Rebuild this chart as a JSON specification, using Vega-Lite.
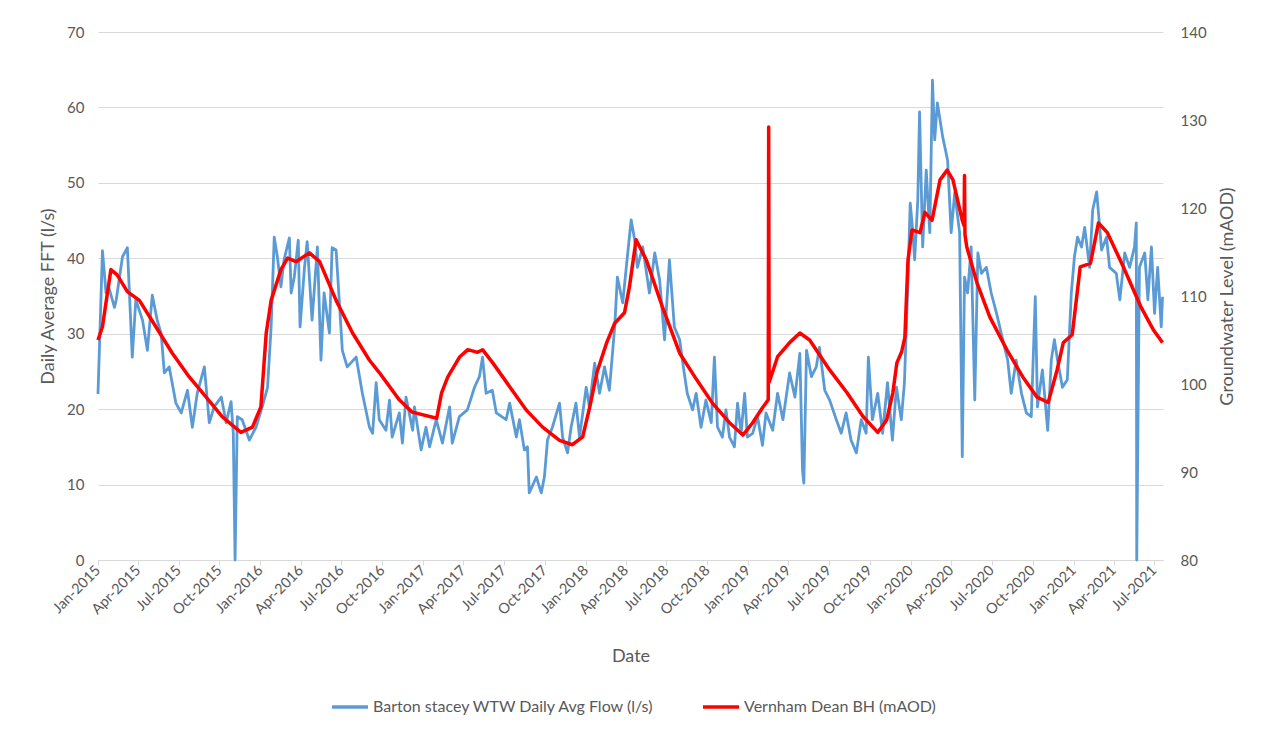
{
  "$schema": "https://vega.github.io/schema/vega-lite/v6.json",
  "width": 1065,
  "height": 528,
  "autosize": {"type": "none"},
  "padding": {"left": 98, "top": 32, "right": 98, "bottom": 171},
  "background": "white",
  "config": {
    "font": "Lato",
    "view": {"stroke": null},
    "axis": {
      "labelColor": "#595959",
      "titleColor": "#595959",
      "labelFontSize": 15,
      "titleFontSize": 18,
      "titleFontWeight": "normal",
      "labelFont": "Lato",
      "titleFont": "Lato"
    }
  },
  "datasets": {
    "flow": [
      {"date": "2015-01-01", "flow": 22},
      {"date": "2015-01-11", "flow": 41},
      {"date": "2015-01-19", "flow": 35.4},
      {"date": "2015-01-26", "flow": 36},
      {"date": "2015-02-07", "flow": 33.5},
      {"date": "2015-02-11", "flow": 34.5},
      {"date": "2015-02-25", "flow": 40.2},
      {"date": "2015-03-08", "flow": 41.4},
      {"date": "2015-03-12", "flow": 36.2},
      {"date": "2015-03-19", "flow": 26.9},
      {"date": "2015-03-27", "flow": 34.5},
      {"date": "2015-04-11", "flow": 31.8},
      {"date": "2015-04-22", "flow": 27.8},
      {"date": "2015-05-03", "flow": 35.1},
      {"date": "2015-05-14", "flow": 31.8},
      {"date": "2015-05-23", "flow": 30},
      {"date": "2015-05-30", "flow": 24.8},
      {"date": "2015-06-10", "flow": 25.6},
      {"date": "2015-06-25", "flow": 20.8},
      {"date": "2015-07-07", "flow": 19.5},
      {"date": "2015-07-21", "flow": 22.5},
      {"date": "2015-08-01", "flow": 17.6},
      {"date": "2015-08-12", "flow": 22.1},
      {"date": "2015-08-28", "flow": 25.6},
      {"date": "2015-09-08", "flow": 18.2},
      {"date": "2015-09-19", "flow": 20.3},
      {"date": "2015-10-05", "flow": 21.6},
      {"date": "2015-10-16", "flow": 18.2},
      {"date": "2015-10-27", "flow": 21},
      {"date": "2015-11-01", "flow": 16.8},
      {"date": "2015-11-05", "flow": 0},
      {"date": "2015-11-10", "flow": 19},
      {"date": "2015-11-21", "flow": 18.6},
      {"date": "2015-12-07", "flow": 15.9},
      {"date": "2015-12-22", "flow": 17.6},
      {"date": "2016-01-05", "flow": 20.3},
      {"date": "2016-01-17", "flow": 22.9},
      {"date": "2016-01-25", "flow": 30.9},
      {"date": "2016-02-01", "flow": 42.8},
      {"date": "2016-02-08", "flow": 40.2},
      {"date": "2016-02-16", "flow": 36.2},
      {"date": "2016-02-23", "flow": 39.8},
      {"date": "2016-03-06", "flow": 42.7},
      {"date": "2016-03-10", "flow": 35.4},
      {"date": "2016-03-17", "flow": 37.5},
      {"date": "2016-03-26", "flow": 42.4},
      {"date": "2016-03-30", "flow": 30.9},
      {"date": "2016-04-09", "flow": 38.8},
      {"date": "2016-04-15", "flow": 42.2},
      {"date": "2016-04-26", "flow": 31.8},
      {"date": "2016-05-08", "flow": 41.5},
      {"date": "2016-05-16", "flow": 26.5},
      {"date": "2016-05-23", "flow": 35.4},
      {"date": "2016-06-04", "flow": 30.1},
      {"date": "2016-06-10", "flow": 41.4},
      {"date": "2016-06-19", "flow": 41.1},
      {"date": "2016-06-26", "flow": 34.5},
      {"date": "2016-07-03", "flow": 27.8},
      {"date": "2016-07-14", "flow": 25.6},
      {"date": "2016-08-03", "flow": 26.9},
      {"date": "2016-08-17", "flow": 22.1},
      {"date": "2016-09-02", "flow": 17.6},
      {"date": "2016-09-09", "flow": 16.8},
      {"date": "2016-09-17", "flow": 23.5},
      {"date": "2016-09-24", "flow": 18.6},
      {"date": "2016-10-09", "flow": 17.2},
      {"date": "2016-10-17", "flow": 21.2},
      {"date": "2016-10-23", "flow": 16.3},
      {"date": "2016-11-08", "flow": 19.5},
      {"date": "2016-11-15", "flow": 15.5},
      {"date": "2016-11-23", "flow": 21.6},
      {"date": "2016-12-08", "flow": 17.2},
      {"date": "2016-12-12", "flow": 20.3},
      {"date": "2016-12-27", "flow": 14.6},
      {"date": "2017-01-07", "flow": 17.6},
      {"date": "2017-01-15", "flow": 15},
      {"date": "2017-01-30", "flow": 18.6},
      {"date": "2017-02-13", "flow": 15.5},
      {"date": "2017-03-01", "flow": 20.3},
      {"date": "2017-03-07", "flow": 15.5},
      {"date": "2017-03-23", "flow": 19},
      {"date": "2017-04-10", "flow": 19.9},
      {"date": "2017-04-26", "flow": 22.9},
      {"date": "2017-05-07", "flow": 24.3},
      {"date": "2017-05-14", "flow": 26.9},
      {"date": "2017-05-22", "flow": 22.1},
      {"date": "2017-06-05", "flow": 22.5},
      {"date": "2017-06-14", "flow": 19.5},
      {"date": "2017-07-06", "flow": 18.6},
      {"date": "2017-07-14", "flow": 20.8},
      {"date": "2017-07-29", "flow": 16.3},
      {"date": "2017-08-05", "flow": 18.6},
      {"date": "2017-08-16", "flow": 14.6},
      {"date": "2017-08-23", "flow": 15},
      {"date": "2017-08-27", "flow": 8.9},
      {"date": "2017-09-12", "flow": 11},
      {"date": "2017-09-23", "flow": 8.9},
      {"date": "2017-09-30", "flow": 11},
      {"date": "2017-10-07", "flow": 15.9},
      {"date": "2017-10-18", "flow": 17.6},
      {"date": "2017-11-03", "flow": 20.8},
      {"date": "2017-11-10", "flow": 16.3},
      {"date": "2017-11-21", "flow": 14.2},
      {"date": "2017-11-29", "flow": 17.6},
      {"date": "2017-12-10", "flow": 20.8},
      {"date": "2017-12-18", "flow": 16.3},
      {"date": "2018-01-02", "flow": 22.9},
      {"date": "2018-01-09", "flow": 20.3},
      {"date": "2018-01-21", "flow": 26.1},
      {"date": "2018-02-01", "flow": 22.1},
      {"date": "2018-02-12", "flow": 25.6},
      {"date": "2018-02-23", "flow": 22.5},
      {"date": "2018-03-07", "flow": 30.9},
      {"date": "2018-03-13", "flow": 37.5},
      {"date": "2018-03-25", "flow": 34.1},
      {"date": "2018-04-02", "flow": 38.8},
      {"date": "2018-04-13", "flow": 45.1},
      {"date": "2018-04-21", "flow": 42.4},
      {"date": "2018-04-27", "flow": 38.8},
      {"date": "2018-05-09", "flow": 41.5},
      {"date": "2018-05-24", "flow": 35.4},
      {"date": "2018-06-05", "flow": 40.7},
      {"date": "2018-06-16", "flow": 37.1},
      {"date": "2018-06-27", "flow": 29.2},
      {"date": "2018-07-08", "flow": 39.8},
      {"date": "2018-07-19", "flow": 30.9},
      {"date": "2018-07-31", "flow": 29.2},
      {"date": "2018-08-06", "flow": 26.5},
      {"date": "2018-08-17", "flow": 22.1},
      {"date": "2018-08-29", "flow": 19.9},
      {"date": "2018-09-06", "flow": 22.1},
      {"date": "2018-09-17", "flow": 17.6},
      {"date": "2018-09-28", "flow": 21.2},
      {"date": "2018-10-10", "flow": 18.2},
      {"date": "2018-10-17", "flow": 26.9},
      {"date": "2018-10-24", "flow": 17.6},
      {"date": "2018-11-04", "flow": 16.3},
      {"date": "2018-11-12", "flow": 19.9},
      {"date": "2018-11-20", "flow": 16.3},
      {"date": "2018-12-01", "flow": 15},
      {"date": "2018-12-08", "flow": 20.8},
      {"date": "2018-12-16", "flow": 16.8},
      {"date": "2018-12-24", "flow": 22.1},
      {"date": "2018-12-30", "flow": 16.3},
      {"date": "2019-01-11", "flow": 16.8},
      {"date": "2019-01-22", "flow": 19},
      {"date": "2019-02-02", "flow": 15.2},
      {"date": "2019-02-10", "flow": 19.5},
      {"date": "2019-02-25", "flow": 17.2},
      {"date": "2019-03-08", "flow": 22.1},
      {"date": "2019-03-20", "flow": 18.6},
      {"date": "2019-04-04", "flow": 24.8},
      {"date": "2019-04-16", "flow": 21.6},
      {"date": "2019-04-27", "flow": 27.4},
      {"date": "2019-05-03", "flow": 11.9},
      {"date": "2019-05-06", "flow": 10.2},
      {"date": "2019-05-12", "flow": 27.8},
      {"date": "2019-05-23", "flow": 24.3},
      {"date": "2019-06-03", "flow": 25.6},
      {"date": "2019-06-10", "flow": 28.2},
      {"date": "2019-06-22", "flow": 22.5},
      {"date": "2019-07-03", "flow": 21.2},
      {"date": "2019-07-18", "flow": 18.6},
      {"date": "2019-07-29", "flow": 16.8},
      {"date": "2019-08-09", "flow": 19.5},
      {"date": "2019-08-20", "flow": 15.9},
      {"date": "2019-09-01", "flow": 14.2},
      {"date": "2019-09-12", "flow": 18.6},
      {"date": "2019-09-23", "flow": 16.8},
      {"date": "2019-09-28", "flow": 26.9},
      {"date": "2019-10-07", "flow": 18.6},
      {"date": "2019-10-19", "flow": 22.1},
      {"date": "2019-10-30", "flow": 16.8},
      {"date": "2019-11-10", "flow": 23.5},
      {"date": "2019-11-21", "flow": 15.9},
      {"date": "2019-11-30", "flow": 22.9},
      {"date": "2019-12-11", "flow": 18.6},
      {"date": "2019-12-18", "flow": 23.5},
      {"date": "2019-12-25", "flow": 35.4},
      {"date": "2019-12-31", "flow": 47.3},
      {"date": "2020-01-05", "flow": 44.1},
      {"date": "2020-01-10", "flow": 39.8},
      {"date": "2020-01-17", "flow": 47.7},
      {"date": "2020-01-21", "flow": 59.4},
      {"date": "2020-01-28", "flow": 41.5},
      {"date": "2020-02-05", "flow": 51.7},
      {"date": "2020-02-13", "flow": 43.4},
      {"date": "2020-02-19", "flow": 63.6},
      {"date": "2020-02-24", "flow": 55.7},
      {"date": "2020-03-01", "flow": 60.6},
      {"date": "2020-03-13", "flow": 56.1},
      {"date": "2020-03-24", "flow": 53},
      {"date": "2020-04-01", "flow": 43.4},
      {"date": "2020-04-09", "flow": 48.7},
      {"date": "2020-04-20", "flow": 43.4},
      {"date": "2020-04-26", "flow": 13.7},
      {"date": "2020-05-01", "flow": 37.5},
      {"date": "2020-05-08", "flow": 35.4},
      {"date": "2020-05-16", "flow": 41.5},
      {"date": "2020-05-24", "flow": 21.2},
      {"date": "2020-05-31", "flow": 40.7},
      {"date": "2020-06-08", "flow": 38},
      {"date": "2020-06-19", "flow": 38.8},
      {"date": "2020-06-30", "flow": 35.4},
      {"date": "2020-07-12", "flow": 32.7},
      {"date": "2020-07-26", "flow": 29.2},
      {"date": "2020-08-06", "flow": 26.5},
      {"date": "2020-08-14", "flow": 22.1},
      {"date": "2020-08-25", "flow": 26.5},
      {"date": "2020-09-06", "flow": 22.1},
      {"date": "2020-09-17", "flow": 19.5},
      {"date": "2020-09-28", "flow": 19},
      {"date": "2020-10-07", "flow": 34.9},
      {"date": "2020-10-12", "flow": 20.3},
      {"date": "2020-10-23", "flow": 25.2},
      {"date": "2020-11-04", "flow": 17.2},
      {"date": "2020-11-12", "flow": 26.5},
      {"date": "2020-11-19", "flow": 29.2},
      {"date": "2020-11-26", "flow": 26.5},
      {"date": "2020-12-07", "flow": 22.9},
      {"date": "2020-12-18", "flow": 23.9},
      {"date": "2020-12-27", "flow": 35.4},
      {"date": "2021-01-03", "flow": 40.2},
      {"date": "2021-01-10", "flow": 42.8},
      {"date": "2021-01-19", "flow": 41.5},
      {"date": "2021-01-26", "flow": 44.1},
      {"date": "2021-02-06", "flow": 38.8},
      {"date": "2021-02-13", "flow": 46.4},
      {"date": "2021-02-22", "flow": 48.8},
      {"date": "2021-03-05", "flow": 41.1},
      {"date": "2021-03-16", "flow": 42.8},
      {"date": "2021-03-23", "flow": 38.8},
      {"date": "2021-04-07", "flow": 38},
      {"date": "2021-04-15", "flow": 34.5},
      {"date": "2021-04-26", "flow": 40.7},
      {"date": "2021-05-07", "flow": 38.8},
      {"date": "2021-05-18", "flow": 41.5},
      {"date": "2021-05-22", "flow": 44.7},
      {"date": "2021-05-23", "flow": 0},
      {"date": "2021-05-29", "flow": 38.8},
      {"date": "2021-06-10", "flow": 40.7},
      {"date": "2021-06-17", "flow": 34.5},
      {"date": "2021-06-25", "flow": 41.5},
      {"date": "2021-07-02", "flow": 32.7},
      {"date": "2021-07-09", "flow": 38.8},
      {"date": "2021-07-17", "flow": 30.9},
      {"date": "2021-07-20", "flow": 34.9}
    ],
    "gw": [
      {"date": "2015-01-01", "level": 105},
      {"date": "2015-01-11", "level": 106.5},
      {"date": "2015-01-30", "level": 113},
      {"date": "2015-02-13", "level": 112.4},
      {"date": "2015-03-08", "level": 110.5},
      {"date": "2015-04-04", "level": 109.5},
      {"date": "2015-05-11", "level": 106.5},
      {"date": "2015-06-17", "level": 103.5},
      {"date": "2015-07-25", "level": 100.8},
      {"date": "2015-09-01", "level": 98.5},
      {"date": "2015-10-07", "level": 96.3},
      {"date": "2015-11-18", "level": 94.5},
      {"date": "2015-12-14", "level": 95.1},
      {"date": "2016-01-02", "level": 97.4},
      {"date": "2016-01-14", "level": 105.8},
      {"date": "2016-01-25", "level": 109.5},
      {"date": "2016-02-16", "level": 113},
      {"date": "2016-03-02", "level": 114.3},
      {"date": "2016-03-21", "level": 113.9},
      {"date": "2016-04-20", "level": 114.9},
      {"date": "2016-05-13", "level": 113.9},
      {"date": "2016-06-19", "level": 109.5},
      {"date": "2016-07-26", "level": 105.8},
      {"date": "2016-09-02", "level": 102.7},
      {"date": "2016-09-24", "level": 101.3},
      {"date": "2016-11-08", "level": 98.2},
      {"date": "2016-12-07", "level": 96.8},
      {"date": "2017-01-31", "level": 96.1},
      {"date": "2017-02-11", "level": 99},
      {"date": "2017-02-25", "level": 100.8},
      {"date": "2017-03-24", "level": 103.1},
      {"date": "2017-04-11", "level": 103.9},
      {"date": "2017-05-03", "level": 103.6},
      {"date": "2017-05-14", "level": 103.9},
      {"date": "2017-06-06", "level": 102.4},
      {"date": "2017-07-14", "level": 99.7},
      {"date": "2017-08-21", "level": 97},
      {"date": "2017-09-26", "level": 95.1},
      {"date": "2017-11-03", "level": 93.6},
      {"date": "2017-12-02", "level": 93.1},
      {"date": "2017-12-25", "level": 94},
      {"date": "2018-01-10", "level": 97.4},
      {"date": "2018-01-26", "level": 101.3},
      {"date": "2018-02-17", "level": 104.7},
      {"date": "2018-03-07", "level": 106.9},
      {"date": "2018-03-29", "level": 108.1},
      {"date": "2018-04-09", "level": 111},
      {"date": "2018-04-24", "level": 116.4},
      {"date": "2018-05-17", "level": 114.1},
      {"date": "2018-06-22", "level": 108.8},
      {"date": "2018-07-31", "level": 103.5},
      {"date": "2018-09-07", "level": 100.5},
      {"date": "2018-10-13", "level": 97.8},
      {"date": "2018-11-20", "level": 95.6},
      {"date": "2018-12-20", "level": 94.2},
      {"date": "2019-01-11", "level": 95.6},
      {"date": "2019-02-02", "level": 97.3},
      {"date": "2019-02-15", "level": 98.2},
      {"date": "2019-02-16", "level": 129.2},
      {"date": "2019-02-17", "level": 100.2},
      {"date": "2019-03-08", "level": 103.1},
      {"date": "2019-04-04", "level": 104.7},
      {"date": "2019-04-27", "level": 105.8},
      {"date": "2019-05-19", "level": 105},
      {"date": "2019-07-03", "level": 101.6},
      {"date": "2019-08-11", "level": 99},
      {"date": "2019-09-16", "level": 96.3},
      {"date": "2019-10-19", "level": 94.5},
      {"date": "2019-11-08", "level": 95.9},
      {"date": "2019-11-22", "level": 99},
      {"date": "2019-12-01", "level": 102.4},
      {"date": "2019-12-12", "level": 103.7},
      {"date": "2019-12-19", "level": 105.3},
      {"date": "2019-12-26", "level": 114.1},
      {"date": "2020-01-04", "level": 117.5},
      {"date": "2020-01-22", "level": 117.2},
      {"date": "2020-02-02", "level": 119.5},
      {"date": "2020-02-18", "level": 118.6},
      {"date": "2020-03-07", "level": 123.2},
      {"date": "2020-03-23", "level": 124.3},
      {"date": "2020-04-05", "level": 123.2},
      {"date": "2020-04-26", "level": 118.6},
      {"date": "2020-04-30", "level": 118},
      {"date": "2020-05-01", "level": 123.7},
      {"date": "2020-05-02", "level": 117},
      {"date": "2020-05-06", "level": 115.6},
      {"date": "2020-05-29", "level": 111.5},
      {"date": "2020-06-27", "level": 107.6},
      {"date": "2020-08-04", "level": 103.9},
      {"date": "2020-09-09", "level": 100.8},
      {"date": "2020-10-11", "level": 98.5},
      {"date": "2020-11-05", "level": 97.9},
      {"date": "2020-11-25", "level": 101.6},
      {"date": "2020-12-09", "level": 104.7},
      {"date": "2020-12-29", "level": 105.6},
      {"date": "2021-01-16", "level": 113.3},
      {"date": "2021-02-08", "level": 113.7},
      {"date": "2021-02-26", "level": 118.3},
      {"date": "2021-03-18", "level": 117.2},
      {"date": "2021-04-23", "level": 113.3},
      {"date": "2021-06-01", "level": 108.8},
      {"date": "2021-06-30", "level": 106.1},
      {"date": "2021-07-20", "level": 104.7}
    ]
  },
  "encoding": {
    "x": {
      "field": "date",
      "type": "temporal",
      "scale": {
        "type": "utc",
        "domain": [
          {"year": 2015, "month": 1, "date": 1, "utc": true},
          {"year": 2021, "month": 7, "date": 21, "utc": true}
        ]
      },
      "axis": {
        "title": "Date",
        "labelExpr": "utcFormat(datum.value, '%b-%Y')",
        "tickCount": {"interval": "month", "step": 3},
        "labelAngle": -45,
        "labelAlign": "right",
        "labelBaseline": "middle",
        "labelFontSize": 14.5,
        "grid": false,
        "domainColor": "#d9d9d9",
        "tickColor": "#d9d9d9",
        "tickSize": 5,
        "labelPadding": 3,
        "titlePadding": 31,
        "labelOverlap": false,
        "labelFlush": false
      }
    }
  },
  "layer": [
    {
      "data": {"name": "flow"},
      "mark": {"type": "line", "strokeWidth": 2.8, "strokeJoin": "round"},
      "encoding": {
        "y": {
          "field": "flow",
          "type": "quantitative",
          "scale": {"domain": [0, 70], "nice": false, "zero": false},
          "axis": {
            "title": "Daily Average FFT (l/s)",
            "values": [0, 10, 20, 30, 40, 50, 60, 70],
            "grid": true,
            "gridColor": "#d9d9d9",
            "domain": false,
            "ticks": false,
            "labelPadding": 14,
            "titlePadding": 9
          }
        },
        "color": {
          "datum": "Barton stacey WTW Daily Avg Flow (l/s)",
          "scale": {
            "domain": ["Barton stacey WTW Daily Avg Flow (l/s)", "Vernham Dean BH (mAOD)"],
            "range": ["#5b9bd5", "#ff0000"]
          },
          "legend": {
            "orient": "none",
            "legendX": 232,
            "legendY": 655,
            "direction": "horizontal",
            "title": null,
            "symbolType": "stroke",
            "symbolStrokeWidth": 3.5,
            "symbolSize": 1300,
            "labelFontSize": 16,
            "labelColor": "#595959",
            "labelFont": "Lato",
            "labelLimit": 500,
            "columnPadding": 40,
            "labelOffset": 3
          }
        }
      }
    },
    {
      "data": {"name": "gw"},
      "mark": {"type": "line", "strokeWidth": 3.5, "strokeJoin": "round"},
      "encoding": {
        "y": {
          "field": "level",
          "type": "quantitative",
          "scale": {"domain": [80, 140], "nice": false, "zero": false},
          "axis": {
            "orient": "right",
            "title": "Groundwater Level (mAOD)",
            "titleAngle": 270,
            "values": [80, 90, 100, 110, 120, 130, 140],
            "grid": false,
            "domain": false,
            "ticks": false,
            "labelPadding": 17,
            "titlePadding": 30
          }
        },
        "color": {"datum": "Vernham Dean BH (mAOD)"}
      }
    }
  ],
  "resolve": {"scale": {"y": "independent"}}
}
